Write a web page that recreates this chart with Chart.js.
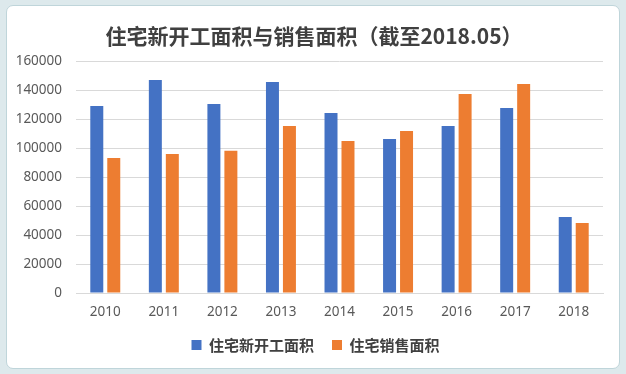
<!DOCTYPE html>
<html lang="zh">
<head>
    <meta charset="UTF-8">
    <title>住宅新开工面积与销售面积</title>
    <script src="https://cdn.jsdelivr.net/npm/chart.js"></script>
    <style>
        html, body { margin: 0; padding: 0; }
        body { width: 626px; height: 374px; background: #dde9ec; position: relative; overflow: hidden; }
        .panel { position: absolute; left: 6px; top: 5px; width: 612px; height: 362px; background: #fff; border: 1px solid #bfd5da; border-radius: 7px; }
        .wrap { position: absolute; left: 0; top: 0; width: 626px; height: 374px; }
    </style>
</head>
<body>
    <div class="panel"></div>
    <div class="wrap"><canvas id="chart" width="626" height="374"></canvas></div>
    <script>
        const years = ["2010", "2011", "2012", "2013", "2014", "2015", "2016", "2017", "2018"];
        const newStarts = [129000, 146900, 130300, 145500, 124100, 106200, 115200, 127600, 52400];
        const sales = [93100, 95900, 98100, 115200, 104800, 111700, 137200, 144100, 48300];
        const yTicks = [0, 20000, 40000, 60000, 80000, 100000, 120000, 140000, 160000];
        const titleText = "住宅新开工面积与销售面积（截至2018.05）";

        const grey = "#595959";

        // the built-in title centres on the padded box, which sits a bit left of the original
        const titlePlugin = {
            id: "excelTitle",
            afterLayout(chart) {
                // nudge the legend right a little, same reason
                chart.legend.left += 14;
                chart.legend.right += 14;
            },
            afterDraw(chart) {
                const ctx = chart.ctx;
                ctx.save();
                ctx.font = "bold 21px 'Noto Sans CJK SC'";
                ctx.fillStyle = "#404040";
                ctx.textAlign = "center";
                ctx.textBaseline = "middle";
                ctx.fillText(titleText, 314, 36);
                ctx.restore();
            }
        };

        new Chart(document.getElementById("chart"), {
            type: "bar",
            data: {
                labels: years,
                datasets: [
                    { label: "住宅新开工面积", data: newStarts, backgroundColor: "#4472c4", barPercentage: 0.765, categoryPercentage: 0.58 },
                    { label: "住宅销售面积", data: sales, backgroundColor: "#ed7d31", barPercentage: 0.765, categoryPercentage: 0.58 }
                ]
            },
            plugins: [titlePlugin],
            options: {
                responsive: false,
                animation: false,
                layout: { padding: { left: 0, right: 23, top: 61, bottom: 11.5 } },
                plugins: {
                    legend: {
                        position: "bottom",
                        labels: {
                            boxWidth: 10, boxHeight: 10, padding: 18,
                            color: "#404040",
                            font: { family: "'Noto Sans CJK SC'", size: 15, weight: "bold" }
                        }
                    },
                    tooltip: { enabled: false }
                },
                scales: {
                    x: {
                        grid: { display: false, drawTicks: false },
                        border: { display: true, color: "#d9d9d9" },
                        ticks: { color: grey, padding: 11, maxRotation: 0, font: { family: "'Noto Sans'", size: 13.5 } },
                        afterFit: s => { s.height = 26.5; }
                    },
                    y: {
                        min: 0, max: 160000,
                        afterBuildTicks: s => { s.ticks = yTicks.map(v => ({ value: v })); },
                        grid: { color: "#d9d9d9", drawTicks: false },
                        border: { display: false },
                        ticks: { color: grey, padding: 14, font: { family: "'Noto Sans'", size: 13.5 }, callback: v => String(v) },
                        afterFit: s => { s.width = 76; }
                    }
                }
            }
        });
    </script>
</body>
</html>
